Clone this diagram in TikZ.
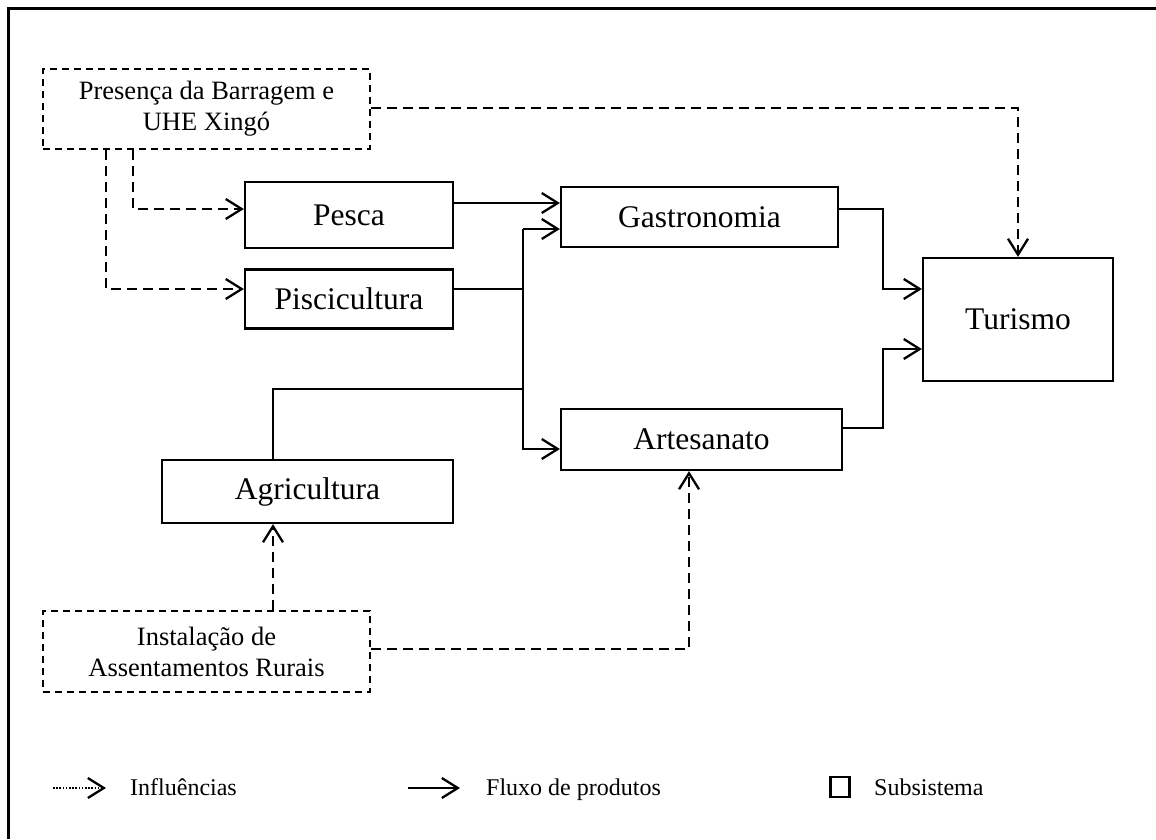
\documentclass[tikz,border=0pt]{standalone}
\usepackage{fontspec}
\setmainfont{Liberation Serif}
\usetikzlibrary{arrows.meta}
\begin{document}
\begin{tikzpicture}[x=1pt,y=-1pt,
  subsys/.style={draw,line width=2.2pt,inner sep=0pt,font=\fontsize{31.5}{37}\selectfont},
  driver/.style={draw,line width=2pt,dash pattern=on 7pt off 5pt,inner sep=0pt,align=center,
    font=\fontsize{26.5}{31}\selectfont},
  tip/.style={-{Straight Barb[length=16pt,width=20pt,line width=2.3pt]}},
  link/.style={line width=2.3pt},
  flow/.style={link,tip},
  infl/.style={line width=2.3pt,dash pattern=on 10pt off 6pt,tip},
  legtext/.style={anchor=base west,inner sep=0pt,font=\fontsize{24}{28}\selectfont}]
\useasboundingbox (0,0) rectangle (1156,839);
\fill[white] (0,0) rectangle (1156,839);
% frame
\draw[line width=2.6pt] (8.5,839) -- (8.5,8.5) -- (1156,8.5);

% drivers
\node[driver,minimum width=327pt,minimum height=80pt] (pres) at (206.5,109)
  {Presença da Barragem e\\UHE Xingó};
\node[driver,minimum width=327pt,minimum height=81pt] (inst) at (206.5,651.5)
  {Instalação de\\Assentamentos Rurais};

% subsystems
\node[subsys,minimum width=208pt,minimum height=66pt] (pesca) at (349,215) {Pesca};
\node[subsys,minimum width=208pt,minimum height=59pt] (pisci) at (349,299) {Piscicultura};
\node[subsys,minimum width=291pt,minimum height=63pt] (agri) at (307.5,491.5) {Agricultura};
\node[subsys,minimum width=277pt,minimum height=60pt] (gastro) at (699.5,217) {Gastronomia};
\node[subsys,minimum width=281pt,minimum height=61pt] (artes) at (701.5,439.5) {Artesanato};
\node[subsys,minimum width=190pt,minimum height=123pt] (tur) at (1018,319.5) {Turismo};

% routing coordinates
\coordinate (trunk) at (523,0);
\coordinate (rail) at (883,0);
\coordinate (agx) at (273,0);
\coordinate (px1) at (133,0);
\coordinate (px2) at (106,0);
\coordinate (ix) at (689,0);
\coordinate (yA) at (0,203);
\coordinate (yB) at (0,229);
\coordinate (yC) at (0,449);
\coordinate (yP) at (0,289);
\coordinate (yQ) at (0,389);
\coordinate (yG) at (0,209);
\coordinate (yT1) at (0,289);
\coordinate (yAr) at (0,428);
\coordinate (yT2) at (0,349);
\coordinate (yPr) at (0,108);
\coordinate (yD1) at (0,209);
\coordinate (yD2) at (0,289);
\coordinate (yI) at (0,649);

% product flows
\draw[flow] (pesca.east |- yA) -- (gastro.west |- yA);
\draw[flow] (trunk |- yB) -- (gastro.west |- yB);
\draw[flow] (trunk |- yB) -- (trunk |- yC) -- (artes.west |- yC);
\draw[link] (pisci.east |- yP) -- (trunk |- yP);
\draw[link] (agx |- agri.north) -- (agx |- yQ) -- (trunk |- yQ);
\draw[flow] (gastro.east |- yG) -- (rail |- yG) -- (rail |- yT1) -- (tur.west |- yT1);
\draw[flow] (artes.east |- yAr) -- (rail |- yAr) -- (rail |- yT2) -- (tur.west |- yT2);

% influences
\draw[infl] (pres.east |- yPr) -- (tur.north |- yPr) -- (tur.north);
\draw[infl] (px1 |- pres.south) -- (px1 |- yD1) -- (pesca.west |- yD1);
\draw[infl] (px2 |- pres.south) -- (px2 |- yD2) -- (pisci.west |- yD2);
\draw[infl] (agx |- inst.north) -- (agx |- agri.south);
\draw[infl] (inst.east |- yI) -- (ix |- yI) -- (ix |- artes.south);

% legend
\coordinate (l1a) at (53,788);
\coordinate (l1b) at (106,788);
\coordinate (l2a) at (408,788);
\coordinate (l2b) at (460,788);
\draw[line width=2.3pt,dash pattern=on 1.6pt off 1.6pt,tip] (l1a) -- (l1b);
\node[legtext] (linf) at (130,795) {Influências};
\draw[flow] (l2a) -- (l2b);
\node[legtext] (lflu) at (486,795) {Fluxo de produtos};
\node[draw,line width=2.2pt,minimum width=19pt,minimum height=20pt,inner sep=0pt] (lbox) at (840,787) {};
\node[legtext] (lsub) at (874,795) {Subsistema};
\end{tikzpicture}
\end{document}
